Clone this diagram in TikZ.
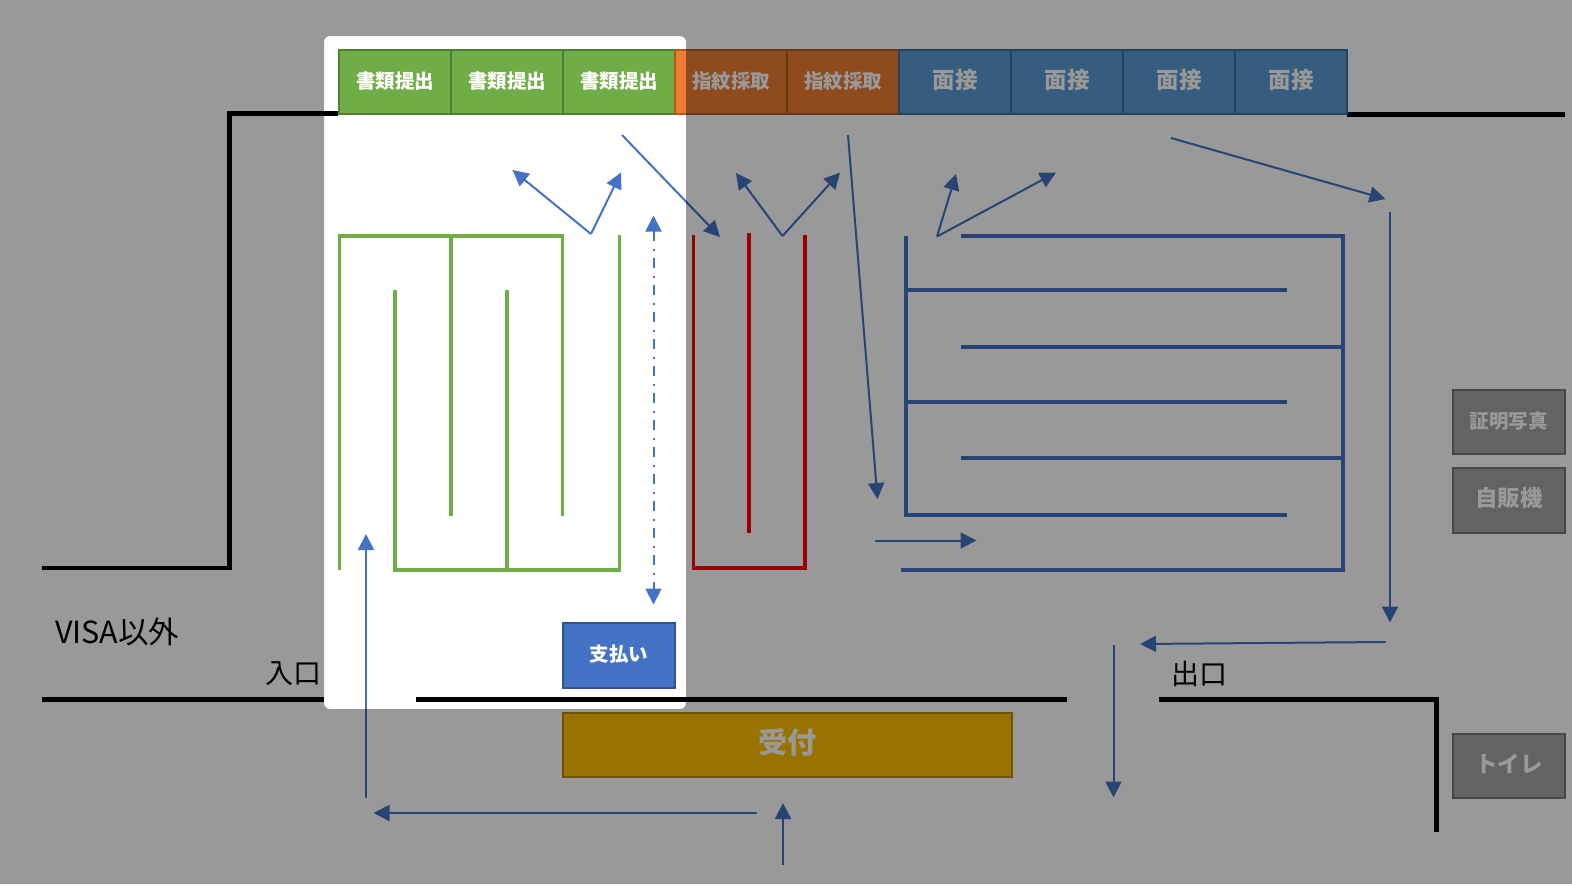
\documentclass[tikz,border=0pt]{standalone}
\usepackage{fontspec}
\setmainfont{Noto Sans CJK JP}
\definecolor{ShoruiGreen}{RGB}{112, 173, 71}
\definecolor{ShimonOrange}{RGB}{237, 125, 49}
\definecolor{MensetsuBlue}{RGB}{91, 155, 213}
\definecolor{PayBlue}{RGB}{68, 114, 196}
\definecolor{UketsukeGold}{RGB}{255, 192, 0}
\definecolor{SideGray}{RGB}{165, 165, 165}
\definecolor{WallRed}{RGB}{255, 0, 0}
\usetikzlibrary{arrows.meta, positioning}

\begin{document}
\begin{tikzpicture}[
    x=1pt, y=-1pt,
    node distance=0pt,
    every node/.style={outer sep=0pt, inner sep=0pt, align=center},
    booth/.style={minimum width=112pt, minimum height=64pt, line width=2pt,
                text=white, text height=16pt, text depth=3.2pt,
                font=\bfseries\fontsize{19.5}{24}\selectfont},
    shorui/.style={booth, draw=ShoruiGreen!72!black, fill=ShoruiGreen},
    shimon/.style={booth, draw=ShimonOrange!72!black, fill=ShimonOrange},
    mensetsu/.style={booth, draw=MensetsuBlue!72!black, fill=MensetsuBlue,
                font=\bfseries\fontsize{22.5}{26}\selectfont},
    side/.style={booth, minimum width=112.5pt, minimum height=64.5pt,
                draw=SideGray!72!black, fill=SideGray},
    caption/.style={text=black, font=\fontsize{28}{32}\selectfont},
    wall/.style={black, line width=4.5pt},
    gwall/.style={ShoruiGreen, line width=3.5pt},
    rwall/.style={WallRed, line width=3.5pt},
    bwall/.style={PayBlue, line width=3.5pt},
    flow/.style={-{Triangle[length=16pt, width=16pt]}, PayBlue, line width=2pt}
]
\useasboundingbox (0,0) rectangle (1572,884);
\fill[white] (0,0) rectangle (1572,884);

% walls
\draw[wall] (42,568) -- (229.5,568) -- (229.5,113.5) -- (338,113.5);
\draw[wall] (1347,114.5) -- (1565,114.5);
\draw[wall] (42,699.5) -- (324,699.5);
\draw[wall] (415.5,699.5) -- (1067,699.5);
\draw[wall] (1159,699.5) -- (1436.5,699.5) -- (1436.5,832);

% booths
\node[shorui, anchor=north west] (doc1) at (339,50) {書類提出};
\node[shorui, right=of doc1] (doc2) {書類提出};
\node[shorui, right=of doc2] (doc3) {書類提出};
\node[shimon, right=of doc3] (finger1) {指紋採取};
\node[shimon, right=of finger1] (finger2) {指紋採取};
\node[mensetsu, right=of finger2] (talk1) {面接};
\node[mensetsu, right=of talk1] (talk2) {面接};
\node[mensetsu, right=of talk2] (talk3) {面接};
\node[mensetsu, right=of talk3] (talk4) {面接};

\node[booth, draw=PayBlue!72!black, fill=PayBlue, minimum width=112.5pt, minimum height=65.5pt,
    anchor=north west] (pay) at (562.5,622.5) {支払い};
\node[booth, draw=UketsukeGold!72!black, fill=UketsukeGold, minimum width=449.5pt, minimum height=64.5pt,
    text height=22pt, text depth=4pt,
    font=\bfseries\fontsize{29}{34}\selectfont, anchor=north west] (desk) at (562.5,712.5) {受付};
\node[side, anchor=north west] (photo) at (1452.5,389.5) {証明写真};
\node[side, below=14pt of photo, font=\bfseries\fontsize{22.5}{26}\selectfont] (vending) {自販機};
\node[side, anchor=north west, font=\bfseries\fontsize{22.5}{26}\selectfont] (toilet) at (1452.5,733.5) {トイレ};

\node[caption, anchor=west, font=\fontsize{30.5}{36}\selectfont] (visa) at (55,632) {VISA以外};
\node[caption, anchor=west] (entrance) at (265,674) {入口};
\node[caption, anchor=west] (exit) at (1171,674) {出口};

% green queue
\draw[gwall] (339.5,570) -- (339.5,236) -- (562.5,236) -- (562.5,516);
\draw[gwall] (451,236) -- (451,516);
\draw[gwall] (395,290) -- (395,570) -- (619.5,570) -- (619.5,235);
\draw[gwall] (507,290) -- (507,570);

% red queue
\draw[rwall] (693.5,235) -- (693.5,568) -- (805,568) -- (805,235);
\draw[rwall] (749,233) -- (749,533);

% blue queue
\draw[bwall] (906,236) -- (906,515) -- (1287,515);
\draw[bwall] (906,290) -- (1287,290);
\draw[bwall] (906,402) -- (1287,402);
\draw[bwall] (961,236) -- (1343,236) -- (1343,570) -- (901,570);
\draw[bwall] (961,347) -- (1343,347);
\draw[bwall] (961,458) -- (1343,458);

% flow
\draw[flow] (591,234) -- (512.5,170);
\draw[flow] (591,234) -- (621,172.5);
\draw[flow] (622,135) -- (720,237);
\draw[flow] (782.5,236) -- (736,173);
\draw[flow] (782.5,236) -- (840,172.5);
\draw[flow] (848,135) -- (877.5,499);
\draw[flow] (937,236.5) -- (956,174);
\draw[flow] (937,236.5) -- (1056,172.5);
\draw[flow] (1171,138) -- (1385.5,199);
\draw[flow] (1390,212) -- (1390,622.5);
\draw[flow] (1385.5,642) -- (1140,644);
\draw[flow] (1113.5,645) -- (1113.5,797.5);
\draw[flow] (783,865) -- (783,803);
\draw[flow] (757,813) -- (373.5,813);
\draw[flow] (366,797.5) -- (366,534);
\draw[flow] (875,540.5) -- (976.5,540.5);
\draw[flow, {Triangle[length=16pt, width=16pt]}-{Triangle[length=16pt, width=16pt]},
    dash pattern=on 10pt off 8pt on 2pt off 7pt]
    (653.5,215.5) -- (653.5,604.5);

% dim everything outside the panel
\fill[black, opacity=0.4, even odd rule] (0,0) rectangle (1572,884)
    [rounded corners=6pt] (324,36) rectangle (686,709);
\end{tikzpicture}
\end{document}
